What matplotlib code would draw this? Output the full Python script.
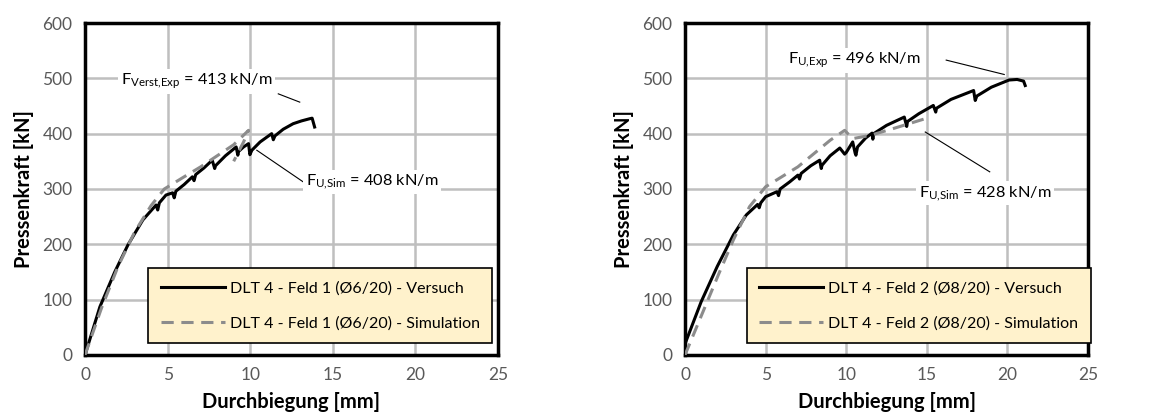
import matplotlib
matplotlib.use("Agg")
import matplotlib.pyplot as plt

plt.rcParams['font.family'] = ['Lato', 'DejaVu Sans']
plt.rcParams['mathtext.fontset'] = 'custom'
plt.rcParams['mathtext.rm'] = 'Lato'
plt.rcParams['mathtext.it'] = 'Lato:italic'

# Feld 1 (links)
x_versuch_1 = [0, 0.9, 1.8, 2.6, 3.5, 4.3, 4.4, 4.5, 4.9, 5.3, 5.4, 5.5, 6.0, 6.5, 6.6, 6.7, 7.2, 7.7,
               7.85, 7.9, 8.5, 9.15, 9.25, 9.3, 9.6, 9.9, 9.98, 10.1, 10.6, 11.3, 11.4, 11.5, 12.0,
               12.6, 13.1, 13.6, 13.75, 13.9]
y_versuch_1 = [0, 87, 150, 199, 244, 271, 262, 275, 289, 293, 284, 296, 308, 322, 315, 326, 338, 352,
               337, 342, 360, 376, 361, 368, 376, 382, 362, 370, 385, 400, 389, 396, 408,
               418, 423, 427, 428, 412]
x_sim_1 = [0, 1, 2, 3, 4, 4.8, 6, 7, 8, 9, 9.9, 9.6, 9.2, 9.0]
y_sim_1 = [0, 85, 160, 222, 270, 300, 322, 340, 360, 380, 406, 385, 362, 350]

# Feld 2 (rechts)
x_versuch_2 = [0, 1.0, 2.0, 3.0, 3.8, 4.5, 4.6, 4.7, 5.0, 5.7, 5.8, 5.9, 6.5, 7.0, 7.1, 7.2, 7.8, 8.35,
               8.45, 8.5, 9.0, 9.6, 9.9, 10.0, 10.4, 10.55, 10.6, 10.7, 11.2, 11.6, 11.65, 11.7,
               12.5, 13.6, 13.75, 13.8, 14.5, 15.4, 15.55, 15.6, 16.5, 17.9, 18.0, 18.1, 19.0,
               20.1, 20.6, 21.0, 21.1]
y_versuch_2 = [20, 96, 160, 217, 253, 272, 266, 275, 286, 295, 288, 300, 313, 325, 318, 328, 342, 352,
               337, 343, 360, 374, 363, 366, 385, 365, 361, 376, 392, 401, 390, 400,
               415, 430, 413, 422, 436, 451, 439, 446, 462, 478, 460, 468, 484,
               497, 498, 495, 487]
x_sim_2 = [0, 0.9, 2.1, 3.0, 4.0, 5.0, 7.0, 9.0, 9.9, 10.4, 11.5, 13.0, 15.0]
y_sim_2 = [0, 63, 147, 208, 268, 304, 340, 388, 406, 391, 397, 410, 428]

legend_1 = ["DLT 4 - Feld 1 (Ø6/20) - Versuch", "DLT 4 - Feld 1 (Ø6/20) - Simulation"]
legend_2 = ["DLT 4 - Feld 2 (Ø8/20) - Versuch", "DLT 4 - Feld 2 (Ø8/20) - Simulation"]

fig = plt.figure(figsize=(11.73, 4.19), dpi=100)
ax1 = fig.add_axes([0.0725, 0.153, 0.352, 0.792])
ax2 = fig.add_axes([0.584, 0.153, 0.3436, 0.792])

box = dict(facecolor='white', edgecolor='none', pad=2)


def draw_panel(ax, xv, yv, xs, ys, labels):
    sim, = ax.plot(xs, ys, color='#8C8C8C', linewidth=2.2, dashes=(4, 2.5), zorder=3)
    exp, = ax.plot(xv, yv, color='black', linewidth=2.2, zorder=2.5)
    ax.set_xlim(0, 25)
    ax.set_ylim(0, 600)
    ax.set_xticks(range(0, 26, 5))
    ax.set_yticks(range(0, 601, 100))
    ax.grid(True, color='#BFBFBF', linewidth=1.8)
    ax.set_axisbelow(True)
    for sp in ax.spines.values():
        sp.set_linewidth(2.5)
        sp.set_color('black')
    ax.tick_params(length=0, labelsize=12.5, labelcolor='#595959', pad=9)
    ax.set_xlabel("Durchbiegung [mm]", fontsize=14.5, fontweight='bold', labelpad=6)
    ax.set_ylabel("Pressenkraft [kN]", fontsize=14.5, fontweight='bold', labelpad=6)
    leg = ax.legend([exp, sim], labels, loc='lower left', bbox_to_anchor=(0.153, 0.035),
                    fontsize=11.5, fancybox=False, framealpha=1,
                    facecolor='#FFF2CC', edgecolor='black', handlelength=4.0,
                    handletextpad=0.3, labelspacing=1.3, borderpad=0.8, borderaxespad=0)
    leg.get_frame().set_linewidth(1.2)


draw_panel(ax1, x_versuch_1, y_versuch_1, x_sim_1, y_sim_1, legend_1)
ax1.text(6.75, 495, r"F$_{\mathrm{Verst{,}Exp}}$ = 413 kN/m", fontsize=11.8, ha='center', va='center', bbox=box)
ax1.plot([11.7, 13.0], [472, 457], color='black', linewidth=0.8)
ax1.text(17.4, 313, r"F$_{\mathrm{U{,}Sim}}$ = 408 kN/m", fontsize=11.8, ha='center', va='center', bbox=box)
ax1.plot([10.4, 13.2], [370, 313], color='black', linewidth=0.8)

draw_panel(ax2, x_versuch_2, y_versuch_2, x_sim_2, y_sim_2, legend_2)
ax2.text(10.5, 533, r"F$_{\mathrm{U{,}Exp}}$ = 496 kN/m", fontsize=11.8, ha='center', va='center', bbox=box)
ax2.plot([16.2, 19.8], [533, 507], color='black', linewidth=0.8)
ax2.text(18.6, 292, r"F$_{\mathrm{U{,}Sim}}$ = 428 kN/m", fontsize=11.8, ha='center', va='center', bbox=box)
ax2.plot([14.9, 18.9], [403, 331], color='black', linewidth=0.8)

fig.savefig("out.png", dpi=100)
